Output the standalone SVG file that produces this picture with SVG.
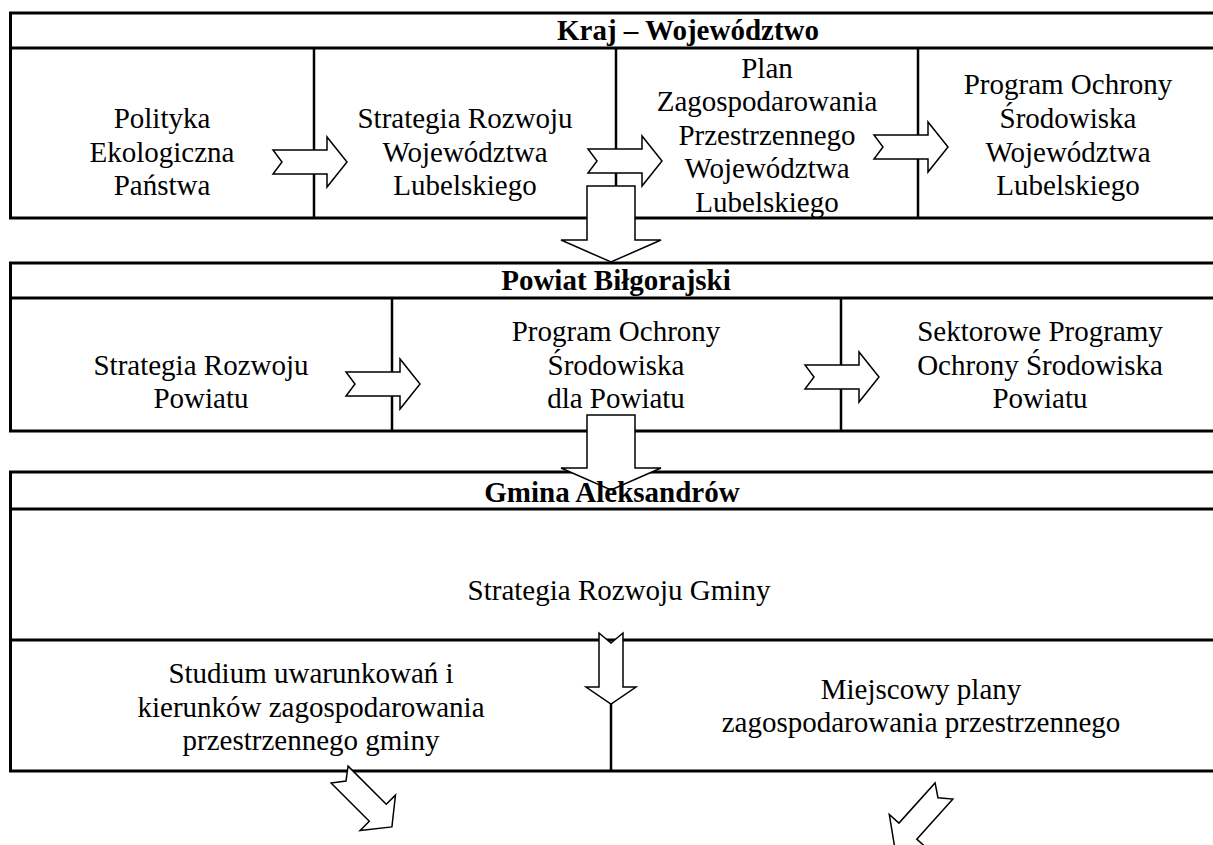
<svg xmlns="http://www.w3.org/2000/svg" xmlns:xlink="http://www.w3.org/1999/xlink" width="1213" height="845" viewBox="0 0 1213 845">
<style>
.frame{fill:#fff;stroke:#000;stroke-width:3}
.ln{stroke:#000;stroke-width:3;fill:none}
.dv{stroke:#000;stroke-width:2.5;fill:none}
text{font-family:'Liberation Serif','Times New Roman','DejaVu Serif',serif;font-size:29px;text-anchor:middle;fill:#000}
.h{font-weight:bold}
.arr{fill:#fff;stroke:#000;stroke-width:1.5;stroke-linejoin:miter}
</style>
<defs>
<path id="ba" d="M0,-12 H54 V-25 L74,0 L54,25 V12 H0 L9,0 Z"/>
</defs>
<rect width="1213" height="845" fill="#fff"/>
<g id="frames">
<g id="tier-kraj-frame">
<rect class="frame" x="10.5" y="13" width="1240" height="205"/>
<line class="ln" x1="10.5" y1="48" x2="1250" y2="48"/>
<line class="dv" x1="314" y1="48" x2="314" y2="218"/>
<line class="dv" x1="616" y1="48" x2="616" y2="218"/>
<line class="dv" x1="918" y1="48" x2="918" y2="218"/>
</g>
<g id="tier-powiat-frame">
<rect class="frame" x="10.5" y="263" width="1240" height="168"/>
<line class="ln" x1="10.5" y1="298" x2="1250" y2="298"/>
<line class="dv" x1="392" y1="298" x2="392" y2="431"/>
<line class="dv" x1="841" y1="298" x2="841" y2="431"/>
</g>
<g id="tier-gmina-frame">
<rect class="frame" x="10.5" y="472" width="1240" height="299"/>
<line class="ln" x1="10.5" y1="509" x2="1250" y2="509"/>
<line class="ln" x1="10.5" y1="640" x2="1250" y2="640"/>
<line class="dv" x1="611" y1="700" x2="611" y2="771"/>
</g>
</g>
<g id="connectors">
<use xlink:href="#ba" class="arr" transform="translate(273,162)"/>
<use xlink:href="#ba" class="arr" transform="translate(588,161)"/>
<use xlink:href="#ba" class="arr" transform="translate(874,147)"/>
<path class="arr" d="M587,186 H635 V240 H661 L611,262 L561,240 H587 Z"/>
<use xlink:href="#ba" class="arr" transform="translate(346,384)"/>
<use xlink:href="#ba" class="arr" transform="translate(805,377)"/>
<path class="arr" d="M587,415 H635 V468 H661 L611,490 L561,468 H587 Z"/>
<path class="arr" d="M599,633 L611,643 L623,633 V687 H636 L611,704 L586,687 H599 Z"/>
<use xlink:href="#ba" class="arr" transform="translate(339.6,774.6) rotate(45)"/>
<use xlink:href="#ba" class="arr" transform="translate(944,791) rotate(132)"/>
</g>
<g font-family="'Liberation Serif', 'Times New Roman', serif">
<g id="tier-kraj-header"><text class="h" x="688" y="40">Kraj – Województwo</text></g>
<g id="node-polityka"><text x="162" y="128">Polityka</text><text x="162" y="162">Ekologiczna</text><text x="162" y="195">Państwa</text></g>
<g id="node-strategia-woj"><text x="465" y="128">Strategia Rozwoju</text><text x="465" y="162">Województwa</text><text x="465" y="195">Lubelskiego</text></g>
<g id="node-plan-woj"><text x="767" y="78">Plan</text><text x="767" y="111">Zagospodarowania</text><text x="767" y="145">Przestrzennego</text><text x="767" y="178">Województwa</text><text x="767" y="212">Lubelskiego</text></g>
<g id="node-pos-woj"><text x="1068" y="94">Program Ochrony</text><text x="1068" y="128">Środowiska</text><text x="1068" y="162">Województwa</text><text x="1068" y="195">Lubelskiego</text></g>
<g id="tier-powiat-header"><text class="h" x="616" y="290">Powiat Biłgorajski</text></g>
<g id="node-strategia-pow"><text x="201" y="375">Strategia Rozwoju</text><text x="201" y="408">Powiatu</text></g>
<g id="node-pos-pow"><text x="616" y="341">Program Ochrony</text><text x="616" y="375">Środowiska</text><text x="616" y="408">dla Powiatu</text></g>
<g id="node-sektorowe"><text x="1040" y="341">Sektorowe Programy</text><text x="1040" y="375">Ochrony Środowiska</text><text x="1040" y="408">Powiatu</text></g>
<g id="tier-gmina-header"><text class="h" x="612" y="502">Gmina Aleksandrów</text></g>
<g id="node-strategia-gm"><text x="619" y="600">Strategia Rozwoju Gminy</text></g>
<g id="node-studium"><text x="311" y="683">Studium uwarunkowań i</text><text x="311" y="717">kierunków zagospodarowania</text><text x="311" y="750">przestrzennego gminy</text></g>
<g id="node-miejscowy"><text x="921" y="699">Miejscowy plany</text><text x="921" y="732">zagospodarowania przestrzennego</text></g>
</g>
</svg>
